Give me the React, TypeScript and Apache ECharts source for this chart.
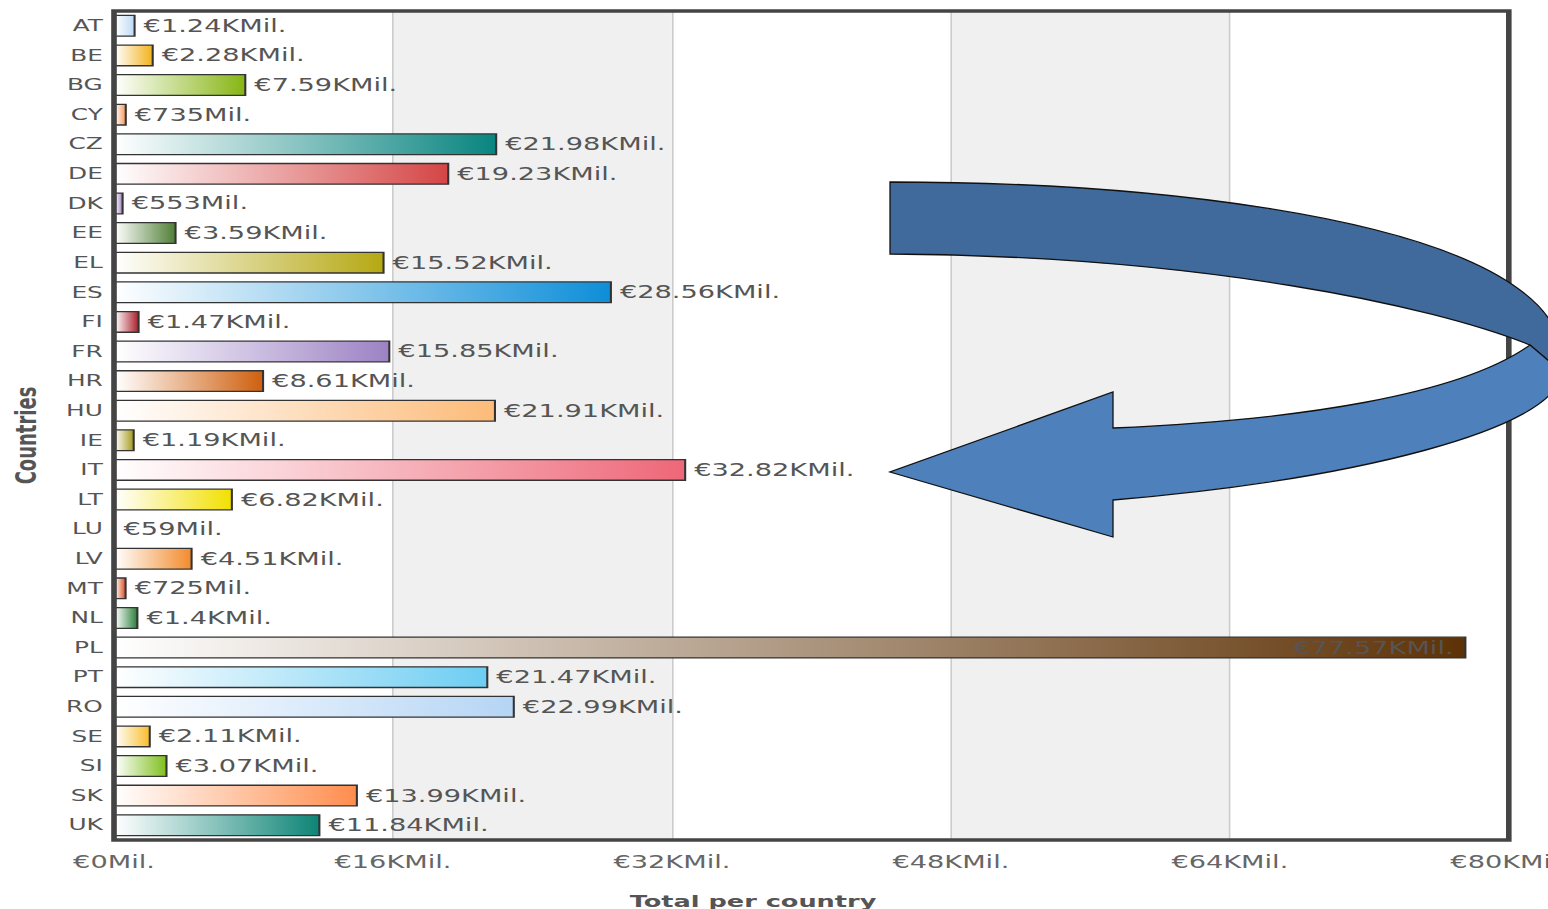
import React, { useEffect, useRef } from "react";
import * as echarts from "echarts";

// horizontal stretch of the whole picture
const STRETCH = 1.6;
const PAGE_W = 1548;
const PAGE_H = 909;

const categories = [
  "AT", "BE", "BG", "CY", "CZ", "DE", "DK", "EE", "EL", "ES", "FI", "FR", "HR", "HU",
  "IE", "IT", "LT", "LU", "LV", "MT", "NL", "PL", "PT", "RO", "SE", "SI", "SK", "UK",
];

// totals in KMil. (thousand million euro)
const totals = [
  1.24, 2.28, 7.59, 0.735, 21.98, 19.23, 0.553, 3.59, 15.52, 28.56, 1.47, 15.85, 8.61, 21.91,
  1.19, 32.82, 6.82, 0.059, 4.51, 0.725, 1.4, 77.57, 21.47, 22.99, 2.11, 3.07, 13.99, 11.84,
];

const barColors = [
  "#bcd9f5", "#f2b21a", "#86b512", "#f7955a", "#08847f", "#d54545", "#9f80c2", "#4f7f35",
  "#b5a812", "#0d8ed8", "#a91e2b", "#9c82c4", "#cf5f0e", "#fcbb78", "#a39a1b", "#ee6778",
  "#f2e000", "#8aa0d8", "#f28b2c", "#dd4b1d", "#2a7f3a", "#5e3206", "#6ccdf2", "#b5d5f5",
  "#f8bd2c", "#7fbf1e", "#ff8d4d", "#0d8476",
];

const axisMin = 0;
const axisMax = 80;
const axisInterval = 16;

const insideLabelCountry = "PL";

const ARROW_DARK_D =
  "M890 182 C1150 182 1420 215 1520 290 C1550 312 1566 340 1562 372 L1530 345 C1430 305 1200 256 890 254 Z";
const ARROW_LIGHT_D =
  "M1530 345 L1562 372 C1558 430 1350 480 1113 500 L1113 537 L890 472 L1113 392 L1113 428 C1300 420 1460 395 1530 345 Z";

echarts.graphic.registerShape("arrowDark", echarts.graphic.extendPath(ARROW_DARK_D, {}));
echarts.graphic.registerShape("arrowLight", echarts.graphic.extendPath(ARROW_LIGHT_D, {}));

const FONT = "DejaVu Sans";

function fmtValue(v: number): string {
  if (v >= 1) return `€${v}KMil.`;
  return `€${Math.round(v * 1000)}Mil.`;
}

export default function App() {
  const ref = useRef<HTMLDivElement>(null);

  useEffect(() => {
    if (!ref.current) return;
    const chart = echarts.init(ref.current, null, { renderer: "svg" });
    const W = PAGE_W / STRETCH;

    const data = totals.map((v, i) => {
      const item: any = {
        value: v,
        itemStyle: {
          color: new echarts.graphic.LinearGradient(0, 0, 1, 0, [
            { offset: 0, color: "#ffffff" },
            { offset: 1, color: barColors[i] },
          ]),
        },
      };
      if (categories[i] === insideLabelCountry) {
        item.label = { position: "insideRight", color: "#555", distance: 8 };
      }
      return item;
    });

    chart.setOption({
      animation: false,
      backgroundColor: "#ffffff",
      grid: {
        left: 114 / STRETCH,
        right: W - 1508 / STRETCH,
        top: 11,
        bottom: PAGE_H - 840,
        containLabel: false,
        outerBoundsMode: "none",
        show: true,
        borderColor: "#444444",
        borderWidth: 3.5,
        backgroundColor: "transparent",
        z: 3,
      },
      xAxis: {
        type: "value",
        min: axisMin,
        max: axisMax,
        interval: axisInterval,
        name: "Total per country",
        nameLocation: "middle",
        nameGap: 53,
        nameTextStyle: {
          fontFamily: FONT,
          fontWeight: "bold",
          fontSize: 16,
          color: "#555",
          padding: [0, 73, 0, 0],
        },
        axisLine: { show: false },
        axisTick: { show: false },
        axisLabel: {
          fontFamily: FONT,
          fontSize: 17,
          color: "#666",
          margin: 14,
          formatter: (v: number) => (v === 0 ? "€0Mil." : `€${v}KMil.`),
        },
        splitLine: { show: true, lineStyle: { color: "#cccccc", width: 1 } },
        splitArea: { show: true, areaStyle: { color: ["#ffffff", "#f0f0f0"] } },
      },
      yAxis: {
        type: "category",
        data: categories,
        inverse: true,
        name: "Countries",
        nameLocation: "middle",
        nameGap: 46,
        nameTextStyle: {
          fontFamily: FONT,
          fontWeight: "bold",
          fontSize: 18,
          color: "#555",
          padding: [0, 20, 0, 0],
        },
        axisLine: { show: false },
        axisTick: { show: false },
        axisLabel: { fontFamily: FONT, fontSize: 15.5, color: "#555", margin: 7 },
        splitLine: { show: false },
      },
      series: [
        {
          type: "bar",
          data,
          barWidth: 22,
          itemStyle: { borderColor: "#333", borderWidth: 1.3 },
          label: {
            show: true,
            position: "right",
            distance: 5,
            fontFamily: FONT,
            fontSize: 17,
            color: "#555",
            formatter: (p: any) => fmtValue(p.value),
          },
        },
      ],
      graphic: [
        {
          type: "arrowDark",
          x: 0,
          y: 0,
          scaleX: 1 / STRETCH,
          scaleY: 1,
          z: 100,
          shape: {},
          style: { fill: "#416A9C", stroke: "#111", lineWidth: 1.3 },
        },
        {
          type: "arrowLight",
          x: 0,
          y: 0,
          scaleX: 1 / STRETCH,
          scaleY: 1,
          z: 101,
          shape: {},
          style: { fill: "#4E80BC", stroke: "#111", lineWidth: 1.3 },
        },
      ],
    });

    return () => chart.dispose();
  }, []);

  return (
    <div
      ref={ref}
      style={{
        position: "fixed",
        left: 0,
        top: 0,
        width: `${PAGE_W / STRETCH}px`,
        height: `${PAGE_H}px`,
        transform: `scaleX(${STRETCH})`,
        transformOrigin: "0 0",
        background: "#fff",
      }}
    />
  );
}
